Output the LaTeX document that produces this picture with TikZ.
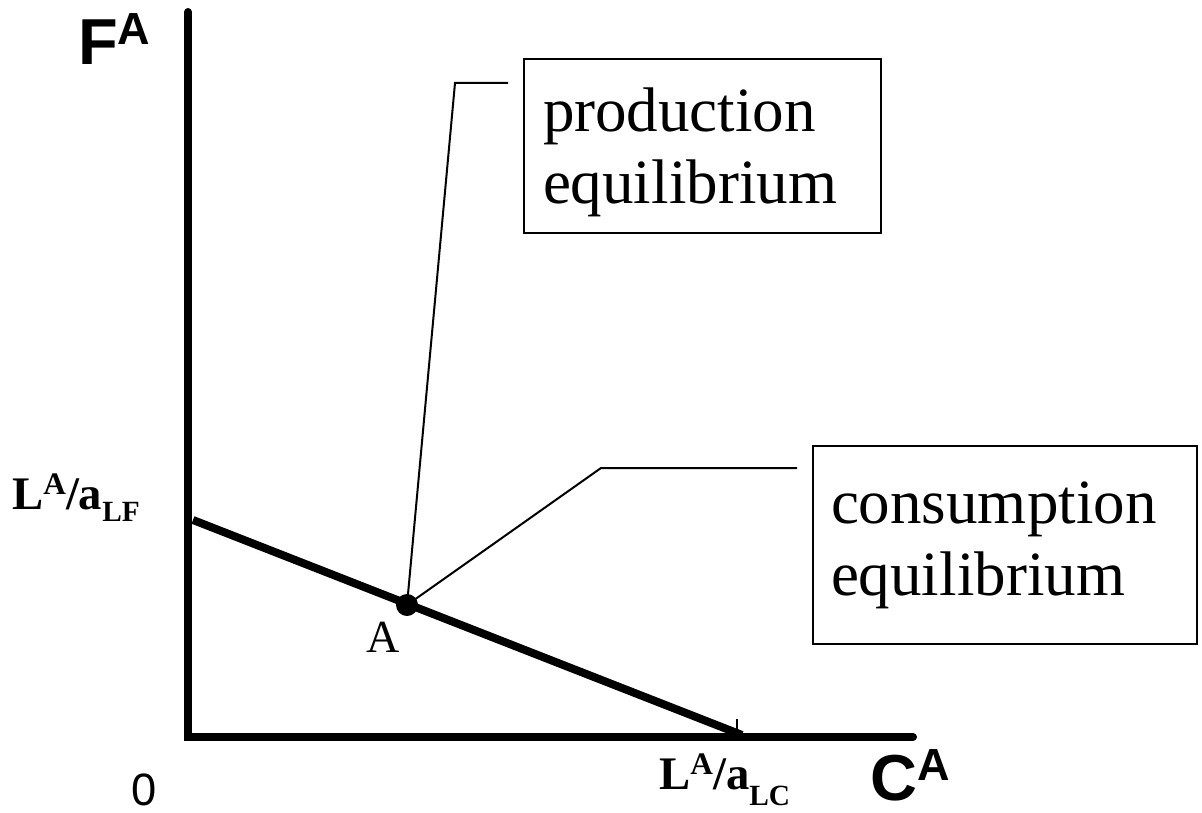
\documentclass[tikz,border=0pt]{standalone}
\usepackage{fontspec}
\setmainfont{Liberation Serif}
\setsansfont{Liberation Sans}
\newcommand{\fsz}[1]{\fontsize{#1}{#1}\selectfont}
\begin{document}
\begin{tikzpicture}[x=0.75pt,y=-0.75pt,
  axisline/.style={line width=6pt,line cap=round,line join=miter},
  budgetline/.style={line width=6pt},
  leader/.style={line width=1.5pt},
  callbox/.style={draw,line width=1.5pt,rectangle,anchor=north west,align=left,
    font=\fontsize{47.25pt}{54pt}\selectfont},
  axlab/.style={inner sep=0pt,anchor=base west,font=\sffamily\bfseries\fsz{48.75pt}},
  ticklab/.style={inner sep=0pt,anchor=base west,font=\bfseries\fsz{35pt}},
  dotstyle/.style={circle,fill=black,minimum size=16.5pt,inner sep=0pt}]
\useasboundingbox (0,0) rectangle (1202,813);

% axes
\draw[axisline] (188,12) -- (188,737) -- (913,737);
% budget line
\draw[budgetline] (193,520) -- (742,735);
\draw[line width=2pt] (737,719) -- (737,733);

% axis labels
\node[axlab] (F) at (78,65) {F\raisebox{15pt}{\fsz{33.75pt}A}};
\node[axlab] (C) at (870,800) {C\raisebox{15pt}{\fsz{33.75pt}A}};
\node[inner sep=0pt,anchor=base,font=\sffamily\fsz{34pt}] (zero) at (144.5,805) {0};
\node[ticklab] (LF) at (12,509) {L\raisebox{11pt}{\fsz{23.5pt}A}/a\raisebox{-9.5pt}{\fsz{22pt}LF}};
\node[ticklab] (LC) at (659,789) {L\raisebox{11pt}{\fsz{23.5pt}A}/a\raisebox{-12pt}{\fsz{22pt}LC}};

% point A
\node[dotstyle] (dot) at (407,605) {};
\node[inner sep=0pt,anchor=base,font=\fsz{34.5pt}] (Alab) at (383,652) {A};

% callout boxes
\node[callbox,inner xsep=14.25pt,text width=239.25pt,minimum height=130.5pt] (prod) at (523,58)
  {\rule{0pt}{42.75pt}production\\equilibrium};
\node[callbox,inner xsep=13.5pt,text width=261pt,minimum height=148.5pt] (cons) at (812,445)
  {consumption\\equilibrium};

% leaders
\coordinate (pc) at (455,83);
\coordinate (pe) at (508,83);
\coordinate (cc) at (601,468);
\coordinate (ce) at (797,468);
\draw[leader] (dot.center) -- (pc) -- (pe);
\draw[leader] (dot.center) -- (cc) -- (ce);
\end{tikzpicture}
\end{document}
